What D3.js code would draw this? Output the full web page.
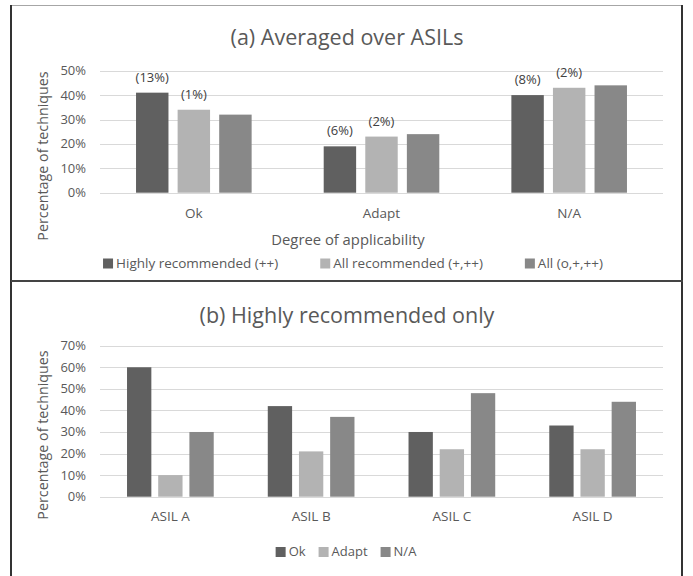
<!DOCTYPE html>
<html>
<head>
<meta charset="utf-8">
<script src="https://cdn.jsdelivr.net/npm/d3@7"></script>
<style>
  body { margin: 0; background: #fff; }
  svg { display: block; font-family: 'Open Sans', sans-serif; }
</style>
</head>
<body>
<svg width="693" height="576"></svg>
<script>
// ---- data, panel (a) ----
const categoriesA = ['Ok', 'Adapt', 'N/A'];
const seriesA = ['Highly recommended (++)', 'All recommended (+,++)', 'All (o,+,++)'];
const highlyA = [41, 19, 40];
const allRecA = [34, 23, 43];
const allA = [32, 24, 44];
const highlyLabelsA = ['(13%)', '(6%)', '(8%)'];
const allRecLabelsA = ['(1%)', '(2%)', '(2%)'];
const ticksA = [0, 10, 20, 30, 40, 50];

// ---- data, panel (b) ----
const categoriesB = ['ASIL A', 'ASIL B', 'ASIL C', 'ASIL D'];
const seriesB = ['Ok', 'Adapt', 'N/A'];
const okB = [60, 42, 30, 33];
const adaptB = [10, 21, 22, 22];
const naB = [30, 37, 48, 44];
const ticksB = [0, 10, 20, 30, 40, 50, 60, 70];

const colors = ['#606060', '#b3b3b3', '#888888'];
const textColor = '#595959';

const svg = d3.select('svg');
const width = +svg.attr('width');
const height = +svg.attr('height');

// panel frames
svg.append('line').attr('x1', 11).attr('x2', 683).attr('y1', 5.5).attr('y2', 5.5)
   .attr('stroke', '#a6a6a6').attr('stroke-width', 1);
svg.append('line').attr('x1', 11).attr('x2', 11).attr('y1', 5).attr('y2', height)
   .attr('stroke', '#333').attr('stroke-width', 2);
svg.append('line').attr('x1', 682).attr('x2', 682).attr('y1', 5).attr('y2', height)
   .attr('stroke', '#333').attr('stroke-width', 2);
svg.append('line').attr('x1', 11).attr('x2', 683).attr('y1', 281).attr('y2', 281)
   .attr('stroke', '#444').attr('stroke-width', 2);

// one grouped bar chart
const drawPanel = opt => {
    const { categories, series, values, labels, ticks, top, bottom, maxV,
            title, titleY, catY, xTitle, legendY, legendGap, legendCx, legendSize, yTitleY } = opt;
    const left = 100, right = 663;

    const x0 = d3.scaleBand().domain(categories).range([left, right]);
    const inset = x0.bandwidth() * 0.192;
    const x1 = d3.scaleBand().domain(series)
                 .range([inset, x0.bandwidth() - inset])
                 .paddingInner(0.22);
    const y = d3.scaleLinear().domain([0, maxV]).range([bottom, top]);

    const g = svg.append('g');

    // gridlines
    g.selectAll('line.grid').data(ticks).enter().append('line')
       .attr('x1', left).attr('x2', right)
       .attr('y1', d => Math.round(y(d)) + 0.5).attr('y2', d => Math.round(y(d)) + 0.5)
       .attr('stroke', '#d9d9d9').attr('stroke-width', 1);

    // tick labels
    g.selectAll('text.tick').data(ticks).enter().append('text')
       .attr('x', 86).attr('y', d => y(d) + 4.5)
       .attr('text-anchor', 'end').attr('font-size', 13).attr('fill', textColor)
       .text(d => d + '%');

    // bars
    const rows = [];
    categories.forEach((c, i) => series.forEach((s, j) =>
        rows.push({ c, s, j, v: values[j][i], label: labels[j] ? labels[j][i] : '' })));

    g.selectAll('rect.bar').data(rows).enter().append('rect')
       .attr('x', d => x0(d.c) + x1(d.s))
       .attr('y', d => y(d.v))
       .attr('width', x1.bandwidth())
       .attr('height', d => y(0) - y(d.v))
       .attr('fill', d => colors[d.j]);

    g.selectAll('text.val').data(rows.filter(d => d.label)).enter().append('text')
       .attr('x', d => x0(d.c) + x1(d.s) + x1.bandwidth() / 2)
       .attr('y', d => y(d.v) - 11)
       .attr('text-anchor', 'middle').attr('font-size', 13).attr('fill', '#404040')
       .text(d => d.label);

    // category labels
    g.selectAll('text.cat').data(categories).enter().append('text')
       .attr('x', d => x0(d) + x0.bandwidth() / 2).attr('y', catY)
       .attr('text-anchor', 'middle').attr('font-size', 13.5).attr('fill', textColor)
       .text(d => d);

    // titles
    g.append('text').attr('x', 347).attr('y', titleY)
       .attr('text-anchor', 'middle').attr('font-size', 21.5).attr('fill', textColor)
       .text(title);
    g.append('text')
       .attr('transform', `translate(48, ${yTitleY}) rotate(-90)`)
       .attr('text-anchor', 'middle').attr('font-size', 14.3).attr('fill', textColor)
       .text('Percentage of techniques');
    if (xTitle) {
        g.append('text').attr('x', 348).attr('y', catY + 27)
           .attr('text-anchor', 'middle').attr('font-size', 14.8).attr('fill', textColor)
           .text(xTitle);
    }

    // legend, laid out from measured text widths and centred
    const lg = g.append('g');
    let cx = 0;
    series.forEach((s, j) => {
        lg.append('rect').attr('x', cx).attr('y', legendY - 9)
          .attr('width', 10).attr('height', 10).attr('fill', colors[j]);
        const t = lg.append('text').attr('x', cx + 13).attr('y', legendY)
          .attr('font-size', legendSize).attr('fill', textColor).text(s);
        cx += 13 + t.node().getComputedTextLength() + legendGap;
    });
    const total = cx - legendGap;
    lg.attr('transform', `translate(${legendCx - total / 2}, 0)`);
};

drawPanel({
    categories: categoriesA, series: seriesA, values: [highlyA, allRecA, allA],
    labels: [highlyLabelsA, allRecLabelsA], ticks: ticksA, maxV: 50,
    top: 70.7, bottom: 192.7, title: '(a) Averaged over ASILs', titleY: 44.5,
    catY: 217.5, xTitle: 'Degree of applicability', legendY: 267.5,
    legendGap: 42, legendCx: 353, legendSize: 13.5, yTitleY: 156
});

drawPanel({
    categories: categoriesB, series: seriesB, values: [okB, adaptB, naB],
    labels: [], ticks: ticksB, maxV: 70,
    top: 345.7, bottom: 496.7, title: '(b) Highly recommended only', titleY: 322.5,
    catY: 521, xTitle: null, legendY: 556,
    legendGap: 13, legendCx: 346, legendSize: 13, yTitleY: 435
});
</script>
</body>
</html>
